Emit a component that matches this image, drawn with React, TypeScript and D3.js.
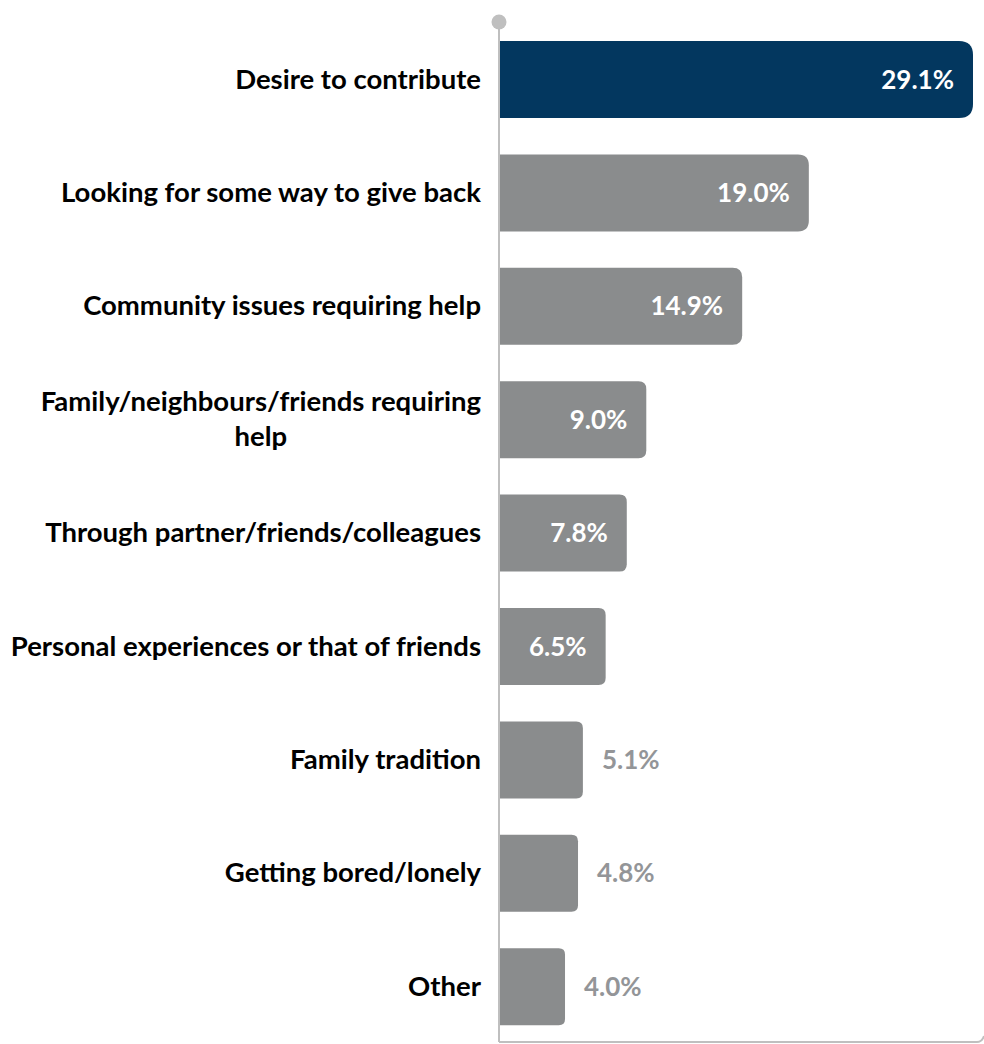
import React, { useEffect, useRef } from "react";
import * as d3 from "d3";

const categories: string[][] = [
  ["Desire to contribute"],
  ["Looking for some way to give back"],
  ["Community issues requiring help"],
  ["Family/neighbours/friends requiring", "help"],
  ["Through partner/friends/colleagues"],
  ["Personal experiences or that of friends"],
  ["Family tradition"],
  ["Getting bored/lonely"],
  ["Other"],
];
const values: number[] = [29.1, 19.0, 14.9, 9.0, 7.8, 6.5, 5.1, 4.8, 4.0];
const highlightIndex = 0;

const W = 984;
const H = 1044;
const NAVY = "#03375F";
const GRAY = "#8A8C8D";
const AXIS = "#BFBFBF";
const LABEL_GRAY = "#939598";
const FONT = "Lato, 'Open Sans', sans-serif";

function rightRounded(x0: number, y: number, w: number, h: number, r: number) {
  const rr = Math.min(r, w, h / 2);
  const x1 = x0 + w;
  return `M${x0},${y}H${x1 - rr}Q${x1},${y} ${x1},${y + rr}V${y + h - rr}Q${x1},${y + h} ${x1 - rr},${y + h}H${x0}Z`;
}

export default function App() {
  const ref = useRef<SVGSVGElement | null>(null);

  useEffect(() => {
    const svg = d3.select(ref.current);
    svg.selectAll("*").remove();

    const x0 = 500;
    const x = d3.scaleLinear().domain([0, 29.1]).range([x0, 973]);
    const y = d3
      .scaleBand<number>()
      .domain(values.map((_, i) => i))
      .range([22.8, 1043.4])
      .paddingInner(0.321)
      .paddingOuter(0.1605);

    const axisX = 499;
    const axisTop = 22;
    const axisBottom = 1042;

    svg
      .append("line")
      .attr("x1", axisX)
      .attr("x2", axisX)
      .attr("y1", axisTop)
      .attr("y2", axisBottom)
      .attr("stroke", AXIS)
      .attr("stroke-width", 2);
    svg
      .append("path")
      .attr("d", `M${axisX},${axisBottom}H977Q982,${axisBottom} 984,${axisBottom - 6}`)
      .attr("fill", "none")
      .attr("stroke", AXIS)
      .attr("stroke-width", 2);
    svg
      .append("circle")
      .attr("cx", axisX)
      .attr("cy", axisTop)
      .attr("r", 7.5)
      .attr("fill", AXIS);

    const bw = y.bandwidth();

    const g = svg.append("g");
    values.forEach((v, i) => {
      const top = y(i)!;
      const w = x(v) - x0;
      const r = 5 + (w / (973 - x0)) * 9;
      g.append("path")
        .attr("d", rightRounded(x0, top, w, bw, r))
        .attr("fill", i === highlightIndex ? NAVY : GRAY);

      const cy = top + bw / 2;
      const inside = v >= 6;
      g.append("text")
        .attr("x", inside ? x(v) - 19 : x(v) + 19)
        .attr("y", cy + 9)
        .attr("text-anchor", inside ? "end" : "start")
        .attr("font-family", FONT)
        .attr("font-weight", 700)
        .attr("font-size", 26)
        .attr("fill", inside ? "#FFFFFF" : LABEL_GRAY)
        .text(d3.format(".1f")(v) + "%");

      const lines = categories[i];
      const lg = g.append("g");
      const texts = lines.map((ln, k) =>
        lg
          .append("text")
          .attr("y", cy + 9 + (k - (lines.length - 1) / 2) * 35)
          .attr("text-anchor", "middle")
          .attr("font-family", FONT)
          .attr("font-weight", 700)
          .attr("font-size", 27.5)
          .attr("fill", "#000000")
          .text(ln)
      );
      const maxW = d3.max(texts, (t) => (t.node() as SVGTextElement).getComputedTextLength()) || 0;
      texts.forEach((t) => t.attr("x", 481 - maxW / 2));
    });
  }, []);

  return (
    <svg
      ref={ref}
      width={W}
      height={H}
      style={{ position: "absolute", left: 0, top: 0, background: "#ffffff" }}
    />
  );
}
